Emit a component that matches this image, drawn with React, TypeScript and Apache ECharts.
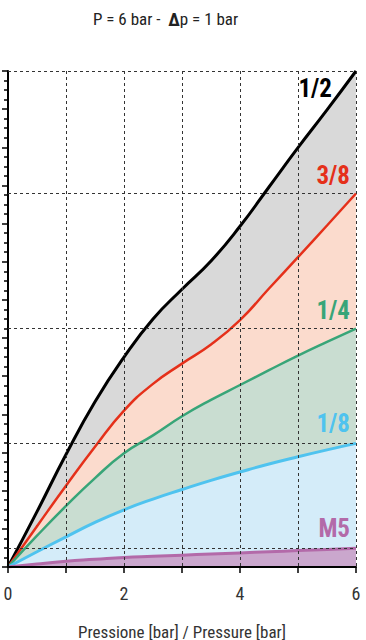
import React, { useEffect, useRef } from "react";
import * as echarts from "echarts";

const pressures = [0, 0.5, 1, 1.5, 2, 2.5, 3, 3.5, 4, 4.5, 5, 5.5, 6];
const seriesNames = ["1/2", "3/8", "1/4", "1/8", "M5"];
const half = [0, 1.45, 2.95, 4.33, 5.5, 6.5, 7.28, 8.02, 8.93, 9.96, 10.99, 11.98, 13];
const threeEighths = [0, 1.07, 2.13, 3.15, 4.1, 4.8, 5.33, 5.83, 6.47, 7.3, 8.12, 8.95, 9.79];
const quarter = [0, 0.82, 1.6, 2.33, 2.98, 3.45, 3.95, 4.38, 4.77, 5.16, 5.54, 5.9, 6.25];
const eighth = [0, 0.4, 0.79, 1.17, 1.5, 1.78, 2.03, 2.27, 2.49, 2.7, 2.89, 3.07, 3.24];
const m5 = [0, 0.08, 0.15, 0.2, 0.25, 0.28, 0.31, 0.34, 0.37, 0.4, 0.43, 0.46, 0.49];
const xTickLabels = ["0", "2", "4", "6"];

const FONT = "'Roboto Condensed', 'Liberation Sans Narrow', 'DejaVu Sans Condensed', 'Arial Narrow', Roboto, sans-serif";

export default function App() {
  const ref = useRef<HTMLDivElement>(null);
  useEffect(() => {
    if (!ref.current) return;
    const chart = echarts.init(ref.current, null, { renderer: "svg" });
    const values = [half, threeEighths, quarter, eighth, m5];
    const lineColors = ["#000000", "#e5301a", "#38a578", "#4fc3ef", "#b36aa9"];
    const fillColors = ["#d9d9d9", "#fbdbcd", "#c9ddd1", "#d4ecf9", "#caa7cd"];
    const lineWidths = [3, 2.5, 2.5, 3, 3];
    const labelOffsets = [[-24, 17], [-6, -18], [-6, -18], [-6, -20], [-6, -20]];

    const series: any[] = values.map((vals, i) => ({
      name: seriesNames[i],
      type: "line",
      smooth: 0.5,
      symbol: "none",
      z: 2 + i * 0.01,
      data: vals.map((v, j) => [pressures[j], v]),
      lineStyle: { color: lineColors[i], width: lineWidths[i] },
      itemStyle: { color: lineColors[i] },
      areaStyle: { color: fillColors[i], opacity: 1 },
      endLabel: {
        show: true,
        formatter: seriesNames[i],
        color: lineColors[i],
        fontSize: 25,
        fontWeight: "bold",
        fontFamily: FONT,
        align: "right",
        verticalAlign: "middle",
        distance: 0,
        offset: labelOffsets[i],
      },
    }));

    series.push({
      type: "line",
      data: [],
      z: 5,
      markLine: {
        silent: true,
        symbol: "none",
        label: { show: false },
        lineStyle: { color: "#333", type: [3, 3], width: 1 },
        data: values.map((vals) => ({ yAxis: vals[vals.length - 1] })),
      },
    });

    chart.setOption({
      animation: false,
      title: {
        text: "P = 6 bar -  {d|Δ}p = 1 bar",
        left: 88,
        top: 5,
        textStyle: {
          fontFamily: FONT,
          fontSize: 17,
          fontWeight: "normal",
          color: "#222",
          rich: {
            d: { fontFamily: FONT, fontSize: 18, fontWeight: "bold", color: "#222" },
          },
        },
      },
      grid: { left: 8, right: 10, top: 71, bottom: 73, containLabel: false, outerBoundsMode: "none" },
      xAxis: {
        type: "value",
        min: 0,
        max: 6,
        interval: 1,
        z: 4,
        name: "Pressione [bar] / Pressure [bar]",
        nameLocation: "middle",
        nameGap: 56,
        nameTextStyle: { fontFamily: FONT, fontSize: 17, color: "#333" },
        axisLine: { lineStyle: { color: "#000", width: 2 } },
        axisTick: { length: 6, lineStyle: { color: "#000", width: 1.5 } },
        axisLabel: {
          margin: 17,
          fontFamily: FONT,
          fontSize: 18,
          color: "#333",
          formatter: (v: number) => (xTickLabels.includes(String(v)) ? String(v) : ""),
        },
        splitLine: { show: true, lineStyle: { color: "#333", type: [3, 3], width: 1 } },
      },
      yAxis: {
        type: "value",
        min: 0,
        max: 13,
        interval: 1,
        z: 4,
        axisLine: { show: true, lineStyle: { color: "#000", width: 2 } },
        axisTick: { show: true, length: 6, lineStyle: { color: "#000", width: 1.5 } },
        minorTick: { show: true, splitNumber: 4, length: 4, lineStyle: { color: "#000", width: 1.5 } },
        axisLabel: { show: false },
        splitLine: { show: false },
      },
      series,
    });
    return () => chart.dispose();
  }, []);
  return (
    <div
      ref={ref}
      style={{ position: "fixed", left: 0, top: 0, width: 366, height: 640, background: "#fff" }}
    />
  );
}
